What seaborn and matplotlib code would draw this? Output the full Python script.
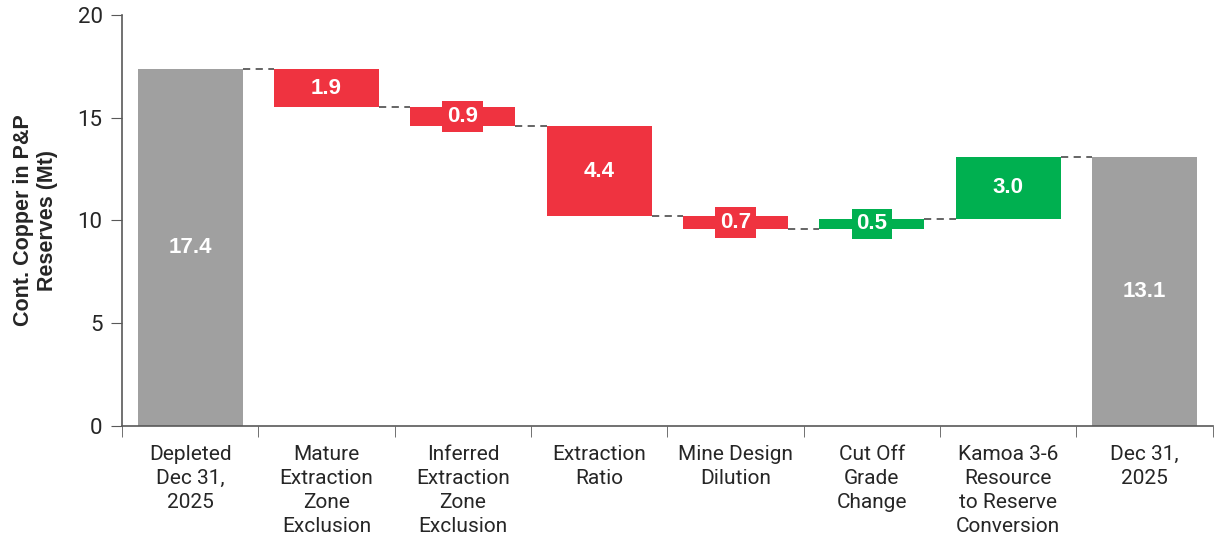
import numpy as np
import pandas as pd
from matplotlib import pyplot as plt
import seaborn as sns

categories = ["Depleted\nDec 31,\n2025", "Mature\nExtraction\nZone\nExclusion",
              "Inferred\nExtraction\nZone\nExclusion", "Extraction\nRatio",
              "Mine Design\nDilution", "Cut Off\nGrade\nChange",
              "Kamoa 3-6\nResource\nto Reserve\nConversion", "Dec 31,\n2025"]
start_value = 17.35
changes = [-1.85, -0.9, -4.4, -0.62, 0.5, 3.0]
end_value = 13.07
bar_labels = ["17.4", "1.9", "0.9", "4.4", "0.7", "0.5", "3.0", "13.1"]

GRAY = "#A0A0A0"
RED = "#EF3340"
GREEN = "#00B050"

# running levels for the floating bars
levels = [start_value]
for c in changes:
    levels.append(levels[-1] + c)
bottoms = [0.0]
heights = [start_value]
for i, c in enumerate(changes):
    bottoms.append(min(levels[i], levels[i + 1]))
    heights.append(abs(c))
bottoms.append(0.0)
heights.append(end_value)
colors = [GRAY] + [RED if c < 0 else GREEN for c in changes] + [GRAY]

df = pd.DataFrame({"cat": categories, "height": heights, "bottom": bottoms})

sns.set_style("ticks")
plt.rcParams["font.family"] = ["Roboto", "DejaVu Sans"]

fig = plt.figure(figsize=(12.14, 5.46), dpi=100)
ax = fig.add_axes([0.1005, 0.22, 0.8985, 0.7525])

width = 0.77
sns.barplot(data=df, x="cat", y="height", bottom=df["bottom"].values,
            width=width, color=GRAY, ax=ax, linewidth=0)
for patch, col in zip(ax.patches, colors):
    patch.set_facecolor(col)

# dashed connectors between bars
conn = levels + [end_value]
for i in range(len(categories) - 1):
    y = conn[i] if i < len(categories) - 2 else end_value
    ax.plot([i + width / 2, i + 1 - width / 2], [y, y], ls=(0, (4, 3)),
            color="#595959", lw=1.3, zorder=1)

# value labels
for i, (b, h, lab, col) in enumerate(zip(bottoms, heights, bar_labels, colors)):
    small = h < 1.5
    bbox = dict(facecolor=col, edgecolor="none", pad=3.5) if small else None
    ax.text(i, b + h / 2, lab, ha="center", va="center", color="white",
            fontsize=16, fontweight="bold", family="Liberation Sans", bbox=bbox, zorder=5)

ax.set_xlim(-0.5, len(categories) - 0.5)
ax.set_ylim(0, 20)
ax.set_yticks([0, 5, 10, 15, 20])
ax.tick_params(axis="y", labelsize=16, length=8, color="#595959", labelcolor="#262626", pad=6)
ax.set_xticks(range(len(categories)))
ax.set_xticklabels(categories, fontsize=15, color="#262626", linespacing=1.32)
ax.tick_params(axis="x", which="major", length=0, pad=14)
ax.set_xticks(np.arange(-0.5, len(categories), 1.0), minor=True)
ax.tick_params(axis="x", which="minor", length=8, color="#595959")
ax.set_xlabel("")
ax.set_ylabel("Cont. Copper in P&P\nReserves (Mt)", fontsize=15.5, fontweight="bold",
              family="Liberation Sans", color="#262626", labelpad=14)
for s in ["top", "right"]:
    ax.spines[s].set_visible(False)
for s in ["left", "bottom"]:
    ax.spines[s].set_color("#595959")
    ax.spines[s].set_linewidth(1.2)

plt.savefig("out.png", dpi=100)
